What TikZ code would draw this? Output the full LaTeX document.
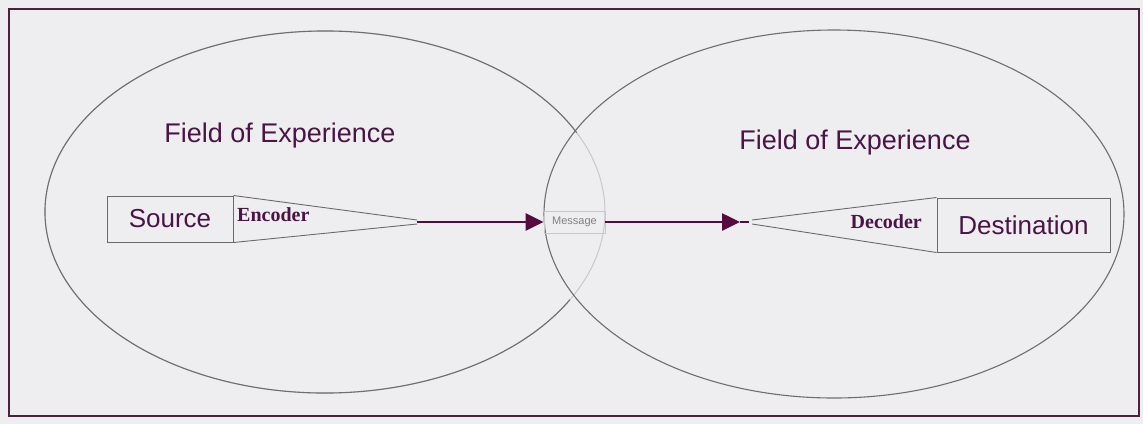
\documentclass[tikz,border=0pt]{standalone}
\usepackage{fontspec}
\setmainfont{Liberation Sans}
\newfontfamily\serifb{Liberation Serif}
\usetikzlibrary{arrows.meta}
\definecolor{bg}{HTML}{EEEEF0}
\definecolor{framec}{HTML}{4B2140}
\definecolor{txt}{HTML}{4A1545}
\definecolor{arrc}{HTML}{560A3E}
\definecolor{ell}{HTML}{6E6E6E}
\definecolor{ellight}{HTML}{C8C8CC}
\definecolor{boxc}{HTML}{6A6A6A}
\tikzset{
  title/.style={text=txt, font=\fontsize{27}{30}\selectfont, inner sep=0pt},
  endbox/.style={draw=boxc, line width=1pt, text=txt, font=\fontsize{26}{30}\selectfont, inner sep=0pt},
  codelabel/.style={text=txt, font=\serifb\bfseries\fontsize{20}{22}\selectfont, inner sep=0pt},
  msgbox/.style={draw=ellight, line width=0.8pt, text=gray, font=\fontsize{11}{12}\selectfont, inner sep=0pt},
  flow/.style={draw=arrc, line width=2.6pt, -{Triangle[length=18pt,width=17pt]}},
  cone/.style={draw=boxc, line width=0.9pt},
  field/.style={draw=ell, line width=1.1pt},
}
\begin{document}
\begin{tikzpicture}[x=1pt,y=-1pt]
\useasboundingbox (0,0) rectangle (1143,424);
\fill[bg] (0,0) rectangle (1143,424);
\draw[framec, line width=2.5pt] (9,9) rectangle (1139,416);
% fields of experience
\draw[ellight, line width=1pt] (325,212) ellipse [x radius=280, y radius=181];
\draw[field] (325,212) ++(29:280 and 181) arc[start angle=29, end angle=334, x radius=280, y radius=181];
\draw[field] (834,214) ellipse [x radius=290, y radius=184];
\node[title] (fl) at (280,136) {Field of Experience};
\node[title] (fr) at (855,143) {Field of Experience};
% source and encoder
\node[endbox, minimum width=126pt, minimum height=46pt] (src) at (170,219) {Source};
\coordinate (encT) at (417,220);
\coordinate (encB) at (417,224);
\coordinate (enc) at (417,222);
\draw[cone] (src.north east) -- (encT);
\draw[cone] (src.south east) -- (encB);
\node[codelabel, anchor=west] (encl) at (237,215) {Encoder};
% message
\node[msgbox, minimum width=61pt, minimum height=22pt] (msg) at (574.5,222) {Message};
\draw[flow] (enc) -- (msg.west);
% destination and decoder
\node[endbox, minimum width=173pt, minimum height=54pt] (dst) at (1023.5,225) {Destination};
\coordinate (decT) at (752,220);
\coordinate (decB) at (752,224);
\coordinate (dec) at (740,222);
\draw[cone] (dst.north west) -- (decT);
\draw[cone] (dst.south west) -- (decB);
\draw[arrc, line width=1.5pt] (dec) -- (749,222);
\node[codelabel, anchor=east] (decl) at (922,222) {Decoder};
\draw[flow] (msg.east) -- (dec);
\end{tikzpicture}
\end{document}
